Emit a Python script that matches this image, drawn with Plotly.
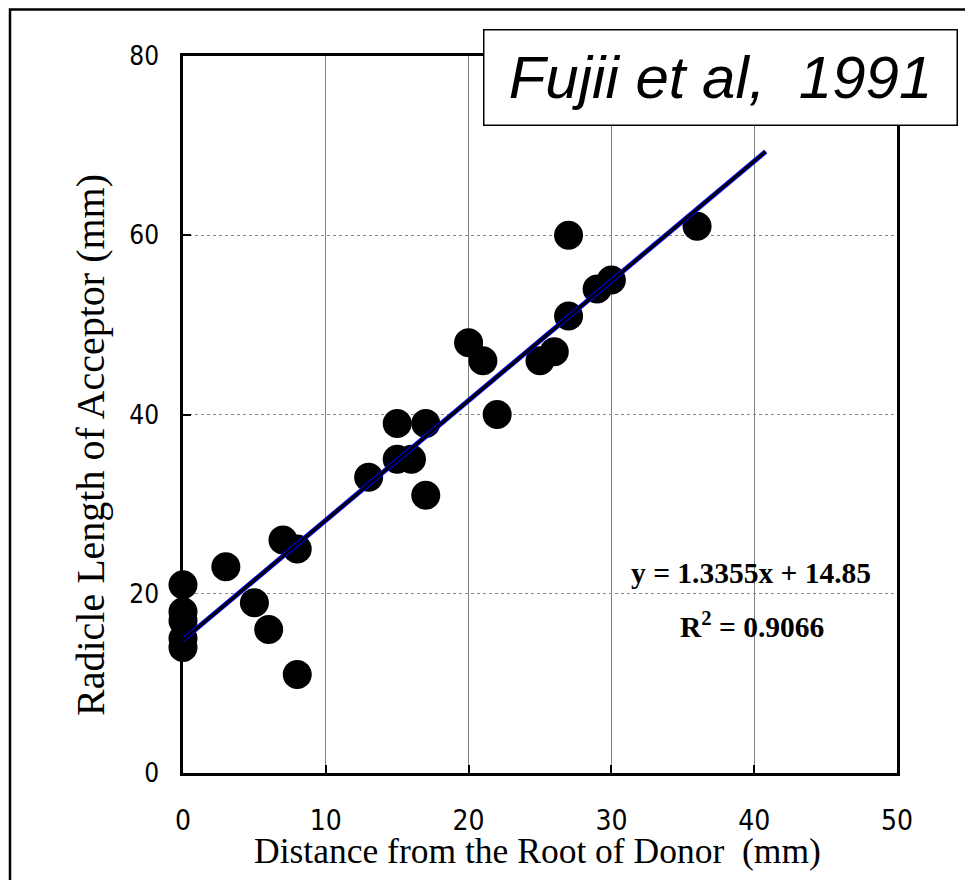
import plotly.graph_objects as go

# Data
distance_mm = [0, 0, 0, 0, 0, 3, 5, 6, 7, 8, 8, 13, 15, 15, 16, 17, 17,
               20, 21, 22, 25, 26, 27, 27, 29, 30, 36]
radicle_mm = [21, 18, 17, 15, 14, 23, 19, 16, 26, 25, 11, 33, 39, 35, 35, 39, 31,
              48, 46, 40, 46, 47, 60, 51, 54, 55, 61]

fit_slope = 1.3355
fit_intercept = 14.85
fit_x = [0, 40.8]
fit_y = [fit_slope * v + fit_intercept for v in fit_x]

x_ticks = [0, 10, 20, 30, 40, 50]
y_ticks = [0, 20, 40, 60, 80]

OFF = 8  # page body margin
W, H = 973 - OFF, 880 - OFF
L, R, T, B = 183 - OFF, 76, 56 - OFF, 107
PW, PH = W - L - R, H - T - B


def px(x):  # page pixel -> paper x
    return (x - OFF - L) / PW


def py(y):  # page pixel -> paper y
    return (H + OFF - B - y) / PH


fig = go.Figure()
fig.add_trace(go.Scatter(
    x=distance_mm, y=radicle_mm, mode="markers", cliponaxis=False,
    marker=dict(size=29, color="black", line=dict(width=0)),
    showlegend=False, hoverinfo="x+y"))
fig.add_trace(go.Scatter(
    x=fit_x, y=fit_y, mode="lines", cliponaxis=False,
    line=dict(color="#0000ff", width=5), showlegend=False, hoverinfo="skip"))
fig.add_trace(go.Scatter(
    x=fit_x, y=fit_y, mode="lines", cliponaxis=False,
    line=dict(color="black", width=3), showlegend=False, hoverinfo="skip"))

tick_font = "Liberation Sans Narrow, DejaVu Sans Condensed, Arial Narrow, sans-serif"
serif = "Liberation Serif, Times New Roman, serif"

fig.update_xaxes(
    range=[0, 50], tickvals=x_ticks, ticktext=[str(v) for v in x_ticks],
    showgrid=True, gridcolor="#808080", gridwidth=1,
    showline=True, linecolor="black", linewidth=2.5, mirror=True,
    ticks="inside", ticklen=8, tickwidth=2, tickcolor="black",
    tickfont=dict(family=tick_font, size=28, color="black"),
    ticklabelstandoff=21, zeroline=False)
fig.update_yaxes(
    range=[0, 80], tickvals=y_ticks, ticktext=[str(v) for v in y_ticks],
    showgrid=True, gridcolor="#888888", gridwidth=1, griddash="dot",
    showline=True, linecolor="black", linewidth=2.5, mirror=True,
    ticks="inside", ticklen=8, tickwidth=2, tickcolor="black",
    tickfont=dict(family=tick_font, size=26, color="black"),
    ticklabelstandoff=16, zeroline=False)

annotations = [
    dict(text="Distance from the Root of Donor  (mm)", x=px(537), y=py(851),
         xref="paper", yref="paper", xanchor="center", yanchor="middle",
         showarrow=False, font=dict(family=serif, size=35.5, color="black")),
    dict(text="Radicle Length of Acceptor (mm)", x=px(90), y=py(445),
         xref="paper", yref="paper", xanchor="center", yanchor="middle",
         textangle=-90, showarrow=False,
         font=dict(family=serif, size=40, color="black")),
    dict(text="<i>Fujii et al,  1991</i>", x=px(720), y=py(77),
         xref="paper", yref="paper", xanchor="center", yanchor="middle",
         width=470, height=92, borderpad=1, bordercolor="black", borderwidth=1.5,
         bgcolor="white", showarrow=False,
         font=dict(family="Liberation Sans, Arial, sans-serif", size=60, color="black")),
    dict(text="<b>y = 1.3355x + 14.85</b>", x=px(751), y=py(573),
         xref="paper", yref="paper", xanchor="center", yanchor="middle",
         showarrow=False, font=dict(family=serif, size=29.5, color="black")),
    dict(text="<b>R<sup>2</sup> = 0.9066</b>", x=px(752), y=py(625),
         xref="paper", yref="paper", xanchor="center", yanchor="middle",
         showarrow=False, font=dict(family=serif, size=29.5, color="black")),
]

shapes = [
    dict(type="rect", xref="paper", yref="paper",
         x0=px(10), x1=px(1010), y0=py(920), y1=py(9.5),
         line=dict(color="black", width=2.5), fillcolor="rgba(0,0,0,0)", layer="above"),
]

fig.update_layout(
    width=W, height=H,
    margin=dict(l=L, r=R, t=T, b=B),
    paper_bgcolor="white", plot_bgcolor="white",
    annotations=annotations, shapes=shapes, showlegend=False)

fig.write_html("out.html")
